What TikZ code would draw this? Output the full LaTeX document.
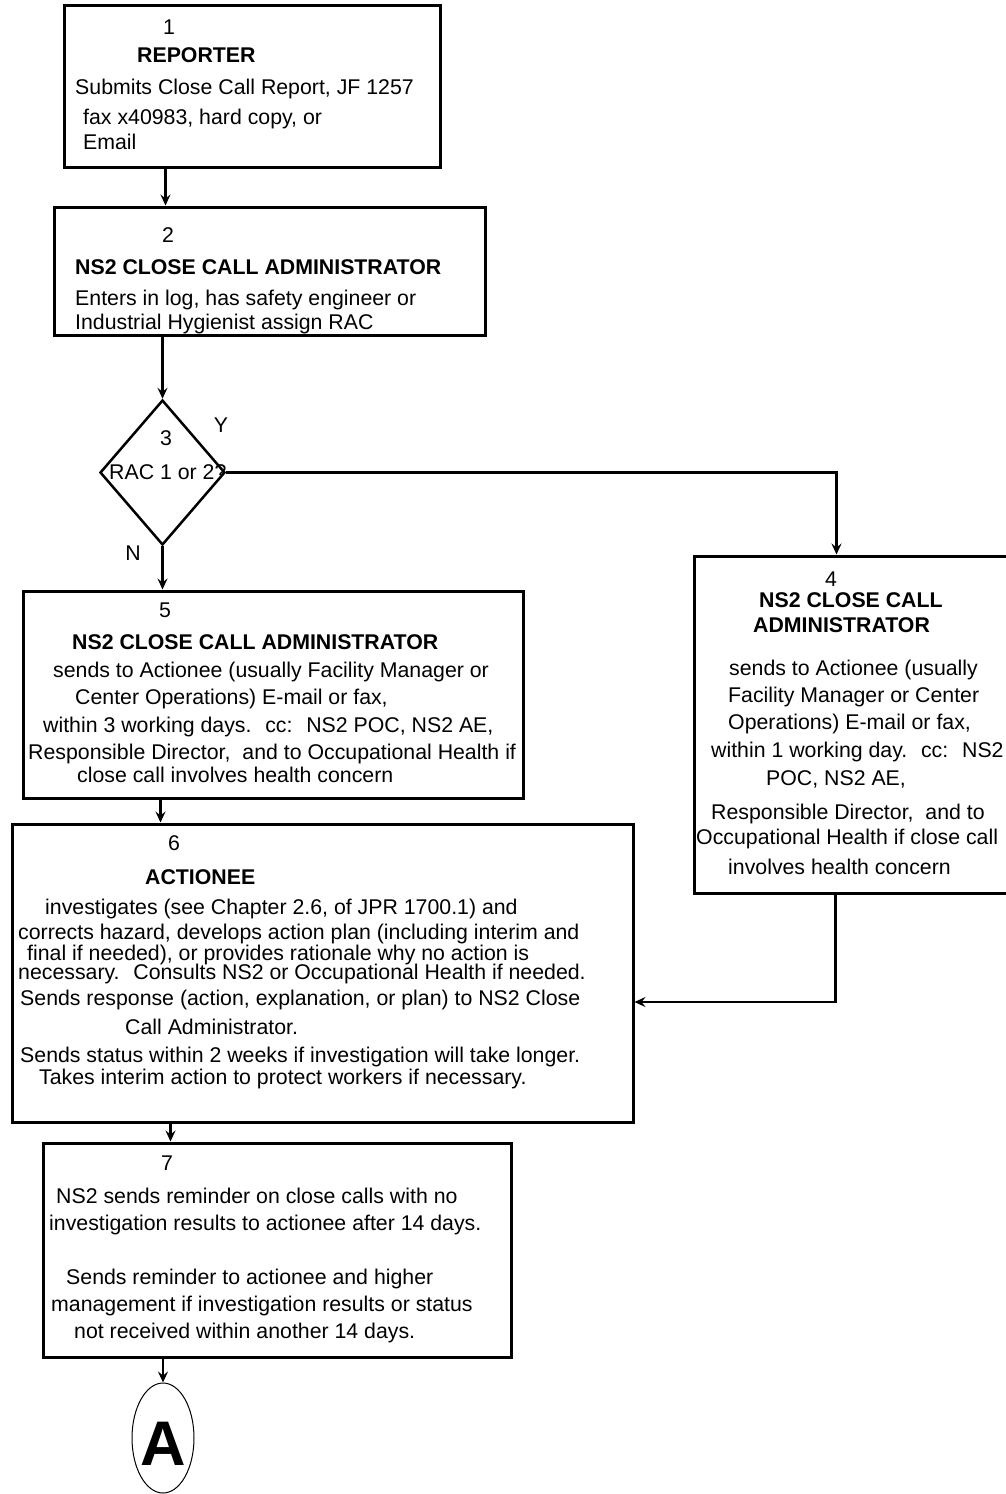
\documentclass[tikz,border=0pt]{standalone}
\usepackage{fontspec}
\setmainfont{Liberation Sans}
\usetikzlibrary{shapes.geometric,arrows.meta}
\begin{document}
\begin{tikzpicture}[x=1pt,y=-1pt,
  box/.style 2 args={draw,line width=3pt,rectangle,inner sep=0pt,minimum width=#1,minimum height=#2},
  tx/.style={inner sep=0pt,anchor=base west,font=\fontsize{21.3}{25}\selectfont},
  tb/.style={inner sep=0pt,anchor=base west,font=\fontsize{21.3}{25}\selectfont\bfseries},
  tn/.style={inner sep=0pt,anchor=base,font=\fontsize{21.3}{25}\selectfont},
  arr/.style={line width=2.5pt,-{Stealth[length=11pt,width=10pt,inset=4pt]}}]
\fill[white] (0,0) rectangle (1005,1494);
\useasboundingbox (0,0) rectangle (1005,1494);
% shapes
\node[box={376pt}{162pt}] (b1) at (252,86) {};
\node[box={431pt}{128pt}] (b2) at (269.5,271) {};
\node[draw,line width=2.5pt,diamond,inner sep=0pt,minimum width=125pt,minimum height=145pt] (d3) at (162.5,472.5) {};
\node[box={318pt}{337pt}] (b4) at (853,724.5) {};
\node[box={500pt}{207pt}] (b5) at (273,694.5) {};
\node[box={621pt}{298pt}] (b6) at (322.5,973) {};
\node[box={468pt}{214pt}] (b7) at (277,1250) {};
\node[draw,line width=1pt,ellipse,inner sep=0pt,minimum width=62pt,minimum height=110pt] (eA) at (163,1438) {};
% box 1
\node[tn] (n1) at (169,34) {1};
\node[tb] (t1a) at (137,62) {REPORTER};
\node[tx] (t1b) at (75,94) {Submits Close Call Report, JF 1257};
\node[tx] (t1c) at (83,124) {fax x40983, hard copy, or};
\node[tx] (t1d) at (83,149) {Email};
% box 2
\node[tn] (n2) at (168,242) {2};
\node[tb] (t2a) at (75,274) {NS2 CLOSE CALL ADMINISTRATOR};
\node[tx] (t2b) at (75,305) {Enters in log, has safety engineer or};
\node[tx] (t2c) at (75,329) {Industrial Hygienist assign RAC};
% diamond
\node[tn] (n3) at (166,445) {3};
\node[tx] (t3a) at (109,479) {RAC 1 or 2?};
\node[tn] (ly) at (221,432) {Y};
\node[tn] (ln) at (133,560) {N};
% box 4
\node[tn] (n4) at (831,586) {4};
\node[tb] (t4a) at (759,607) {NS2 CLOSE CALL};
\node[tb] (t4b) at (753,632) {ADMINISTRATOR};
\node[tx] (t4c) at (729,675) {sends to Actionee (usually};
\node[tx] (t4d) at (728,702) {Facility Manager or Center};
\node[tx] (t4e) at (728,729) {Operations) E-mail or fax,};
\node[tx] (t4f) at (711,757) {within 1 working day.~ cc:~ NS2};
\node[tx] (t4g) at (766,785) {POC, NS2 AE,};
\node[tx] (t4h) at (711,819) {Responsible Director,~ and to};
\node[tx] (t4i) at (696,844) {Occupational Health if close call};
\node[tx] (t4j) at (728,874) {involves health concern};
% box 5
\node[tn] (n5) at (165,617) {5};
\node[tb] (t5a) at (72,649) {NS2 CLOSE CALL ADMINISTRATOR};
\node[tx] (t5b) at (53,677) {sends to Actionee (usually Facility Manager or};
\node[tx] (t5c) at (75,704) {Center Operations) E-mail or fax,};
\node[tx] (t5d) at (43,732) {within 3 working days.~ cc:~ NS2 POC, NS2 AE,};
\node[tx] (t5e) at (28,759) {Responsible Director,~ and to Occupational Health if};
\node[tx] (t5f) at (77,782) {close call involves health concern};
% box 6
\node[tn] (n6) at (174,850) {6};
\node[tb] (t6a) at (145,884) {ACTIONEE};
\node[tx] (t6b) at (45,914) {investigates (see Chapter 2.6, of JPR 1700.1) and};
\node[tx] (t6c) at (18,939) {corrects hazard, develops action plan (including interim and};
\node[tx] (t6d) at (27,960) {final if needed), or provides rationale why no action is};
\node[tx] (t6e) at (18,979) {necessary.~ Consults NS2 or Occupational Health if needed.};
\node[tx] (t6f) at (20,1005) {Sends response (action, explanation, or plan) to NS2 Close};
\node[tx] (t6g) at (125,1034) {Call Administrator.};
\node[tx] (t6h) at (20,1062) {Sends status within 2 weeks if investigation will take longer.};
\node[tx] (t6i) at (39,1084) {Takes interim action to protect workers if necessary.};
% box 7
\node[tn] (n7) at (167,1170) {7};
\node[tx] (t7a) at (56,1203) {NS2 sends reminder on close calls with no};
\node[tx] (t7b) at (49,1230) {investigation results to actionee after 14 days.};
\node[tx] (t7c) at (66,1284) {Sends reminder to actionee and higher};
\node[tx] (t7d) at (51,1311) {management if investigation results or status};
\node[tx] (t7e) at (74,1338) {not received within another 14 days.};
% A
\node[inner sep=0pt,anchor=base,font=\fontsize{63}{70}\selectfont\bfseries] (tA) at (163,1465) {A};
% connectors
\draw[arr] ([xshift=103pt]b1.south west) coordinate (c12) -- (c12 |- b2.north);
\draw[arr] (d3.north |- b2.south) -- (d3.north);
\draw[arr] (d3.south) -- (d3.south |- b5.north);
\draw[arr] (d3.east) -| ([xshift=144pt]b4.north west);
\draw[arr] ([xshift=139pt]b5.south west) coordinate (c56) -- (c56 |- b6.north);
\draw[arr] ([xshift=143pt]b4.south west) |- ([yshift=-29pt]b6.east);
\draw[arr] ([xshift=160pt]b6.south west) coordinate (c67) -- (c67 |- b7.north);
\draw[arr] (eA.north |- b7.south) -- (eA.north);
\end{tikzpicture}
\end{document}
